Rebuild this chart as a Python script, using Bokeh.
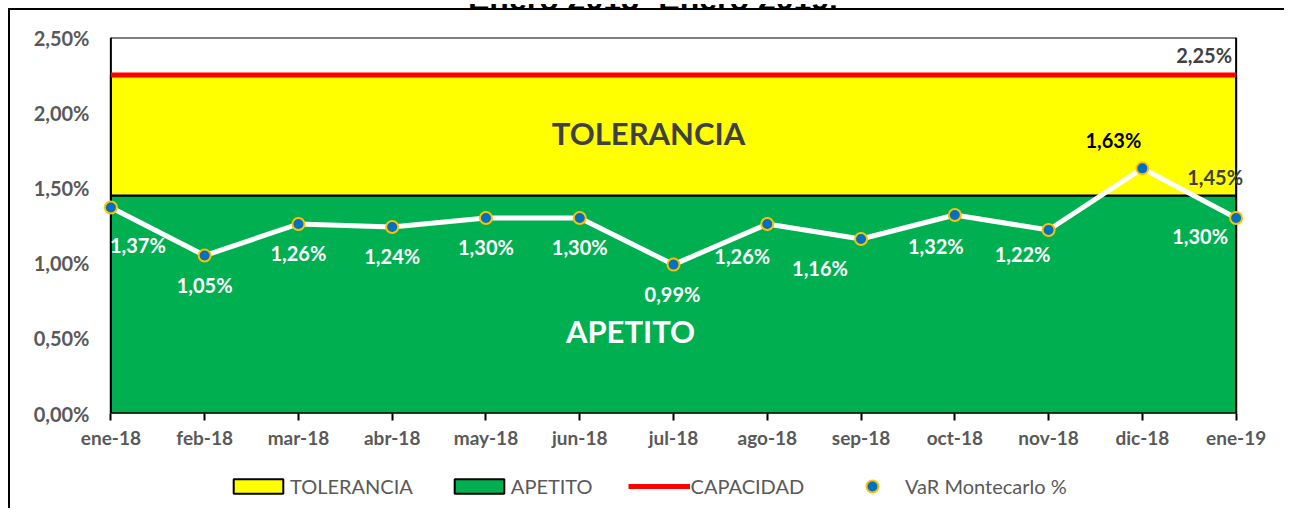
from bokeh.plotting import figure
from bokeh.layouts import column
from bokeh.models import (Range1d, FixedTicker, CustomJSTickFormatter, Legend, LegendItem,
                          ColumnDataSource, Label, LabelSet, Div)
from bokeh.core.properties import value
from bokeh.embed import file_html
from bokeh.resources import INLINE

# ---------------- data ----------------
title = "Enero 2018- Enero 2019."
months = ["ene-18", "feb-18", "mar-18", "abr-18", "may-18", "jun-18", "jul-18",
          "ago-18", "sep-18", "oct-18", "nov-18", "dic-18", "ene-19"]
var_pct = [1.37, 1.05, 1.26, 1.24, 1.30, 1.30, 0.99, 1.26, 1.16, 1.32, 1.22, 1.63, 1.30]
apetito = 1.45
capacidad = 2.25
y_ticks = [0.0, 0.5, 1.0, 1.5, 2.0, 2.5]

# ---------------- styling ----------------
FONT = "Lato"
GRAY = "#595959"
DARK = "#404040"
# label offsets in screen px (dx right, dy up)
label_dx = [27, 0, 0, 0, 0, 0, -1, -25, -41, -19, -26, -29, -36]
label_dy = [-38, -29, -29, -29, -29, -29, -29, -32, -29, -31, -24, 28, -18]
label_col = ["white"] * 11 + ["black", "white"]

x = list(range(len(months)))
pad = 0.1

p = figure(width=1274, height=450, output_backend="svg", toolbar_location=None,
           x_range=Range1d(x[0] - pad, x[-1] + pad), y_range=Range1d(y_ticks[0], y_ticks[-1]),
           min_border_left=91, min_border_top=27, min_border_right=39, min_border_bottom=47)
p.outline_line_color = None
p.xgrid.visible = False
p.ygrid.visible = False

# bands
r_ape = p.quad(left=x[0], right=x[-1], bottom=y_ticks[0], top=apetito,
               fill_color="#00B050", line_color="black", line_width=2)
r_tol = p.quad(left=x[0], right=x[-1], bottom=apetito, top=capacidad,
               fill_color="#FFFF00", line_color="black", line_width=2)
# frame box
p.segment(x0=[x[0], x[-1], x[0], x[0]], y0=[y_ticks[0], y_ticks[0], y_ticks[-1], y_ticks[0]],
          x1=[x[0], x[-1], x[-1], x[-1]], y1=[y_ticks[-1], y_ticks[-1], y_ticks[-1], y_ticks[0]],
          line_color="black", line_width=2)
r_cap = p.line([x[0], x[-1]], [capacidad, capacidad], line_color="#FF0000", line_width=5)

src = ColumnDataSource(dict(x=x, y=var_pct,
                            txt=[("%.2f" % v).replace(".", ",") + "%" for v in var_pct],
                            dx=label_dx, dy=label_dy, col=label_col))
p.line("x", "y", source=src, line_color="white", line_width=5)
p.scatter("x", "y", source=src, size=12, fill_color="#0070C0",
          line_color="#FFC000", line_width=2)

labels = LabelSet(x="x", y="y", text="txt", source=src, x_offset="dx", y_offset="dy",
                  text_color="col", text_font=value(FONT), text_font_style="bold",
                  text_font_size="20px", text_align="center", text_baseline="middle")
p.add_layout(labels)

mid_x = (x[0] + x[-1]) / 2
p.add_layout(Label(x=mid_x, y=(apetito + capacidad) / 2, text="TOLERANCIA", x_offset=-25,
                   y_offset=2,
                   text_font=FONT, text_font_style="bold", text_font_size="31px",
                   text_color=DARK, text_align="center", text_baseline="middle"))
p.add_layout(Label(x=mid_x, y=apetito / 2, text="APETITO", x_offset=-43, y_offset=-27,
                   text_font=FONT, text_font_style="bold", text_font_size="31px",
                   text_color="white", text_align="center", text_baseline="middle"))
p.add_layout(Label(x=x[-1], y=capacidad, text=("%.2f" % capacidad).replace(".", ",") + "%",
                   x_offset=-32, y_offset=20,
                   text_font=FONT, text_font_style="bold", text_font_size="20px",
                   text_color=DARK, text_align="center", text_baseline="middle"))
p.add_layout(Label(x=x[-1], y=apetito, text=("%.2f" % apetito).replace(".", ",") + "%",
                   x_offset=-21, y_offset=18,
                   text_font=FONT, text_font_style="bold", text_font_size="20px",
                   text_color=DARK, text_align="center", text_baseline="middle"))

# axes
p.xaxis.ticker = FixedTicker(ticks=x)
p.xaxis.major_label_overrides = {i: m for i, m in zip(x, months)}
p.xaxis.axis_line_color = None
p.xaxis.major_tick_out = 7
p.xaxis.major_tick_in = 0
p.xaxis.major_tick_line_width = 2
p.xaxis.major_tick_line_color = "black"
p.xaxis.minor_tick_line_color = None
p.xaxis.major_label_standoff = 5
p.xaxis.major_label_text_font = FONT
p.xaxis.major_label_text_font_style = "bold"
p.xaxis.major_label_text_font_size = "19px"
p.xaxis.major_label_text_color = GRAY

p.yaxis.ticker = FixedTicker(ticks=y_ticks)
p.yaxis.formatter = CustomJSTickFormatter(code="return tick.toFixed(2).replace('.', ',') + '%';")
p.yaxis.axis_line_color = None
p.yaxis.major_tick_out = 0
p.yaxis.major_tick_in = 0
p.yaxis.minor_tick_line_color = None
p.yaxis.major_label_standoff = 12
p.yaxis.major_label_text_font = FONT
p.yaxis.major_label_text_font_style = "bold"
p.yaxis.major_label_text_font_size = "20px"
p.yaxis.major_label_text_color = GRAY

# ---------------- legend strip ----------------
lf = figure(width=1274, height=48, output_backend="svg", toolbar_location=None,
            x_axis_type=None, y_axis_type=None, min_border=0,
            x_range=Range1d(0, 1), y_range=Range1d(0, 1))
lf.outline_line_color = None
lf.xgrid.visible = False
lf.ygrid.visible = False
# legend-only renderers, placed outside the visible range
g_tol = lf.quad(left=[-3], right=[-2], bottom=[-3], top=[-2],
                fill_color="#FFFF00", line_color="black", line_width=2)
g_ape = lf.quad(left=[-3], right=[-2], bottom=[-3], top=[-2],
                fill_color="#00B050", line_color="black", line_width=2)
g_cap = lf.line(x=[-3, -2], y=[-3, -3], line_color="#FF0000", line_width=5)
g_var = lf.scatter(x=[-3], y=[-3], size=12, fill_color="#0070C0", line_color="#FFC000",
                   line_width=2)

leg_style = dict(orientation="horizontal", border_line_color=None, background_fill_alpha=0,
                 label_text_font=FONT, label_text_font_size="20px", label_text_color=GRAY,
                 margin=0, padding=0, label_height=20)
legend_a = Legend(items=[LegendItem(label="TOLERANCIA", renderers=[g_tol]),
                         LegendItem(label="APETITO", renderers=[g_ape]),
                         LegendItem(label="CAPACIDAD", renderers=[g_cap])],
                  location=(126, 10), glyph_width=62, glyph_height=18,
                  label_standoff=1, spacing=35, **leg_style)
legend_b = Legend(items=[LegendItem(label="VaR Montecarlo %", renderers=[g_var])],
                  location=(740, 7), glyph_width=62, glyph_height=30,
                  label_standoff=2, spacing=0, **leg_style)
lf.add_layout(legend_a, "center")
lf.add_layout(legend_b, "center")

# clipped title strip above the box
title_div = Div(text=('<div style="position:relative;width:1284px;height:8px;overflow:hidden;">'
                      '<span style="position:absolute;left:468px;top:-21px;white-space:nowrap;'
                      'font-family:\'Liberation Sans\';font-weight:bold;font-size:32px;'
                      'line-height:32px;color:black;">' + title + '</span></div>'),
                width=1284, height=8, margin=0)

box = column(p, lf, spacing=0)
box.styles = {"margin-left": "8px",
              "border-left": "2px solid black", "border-top": "2px solid black"}

layout = column(title_div, box, spacing=0)

open("out.html", "w").write(file_html(layout, INLINE))
